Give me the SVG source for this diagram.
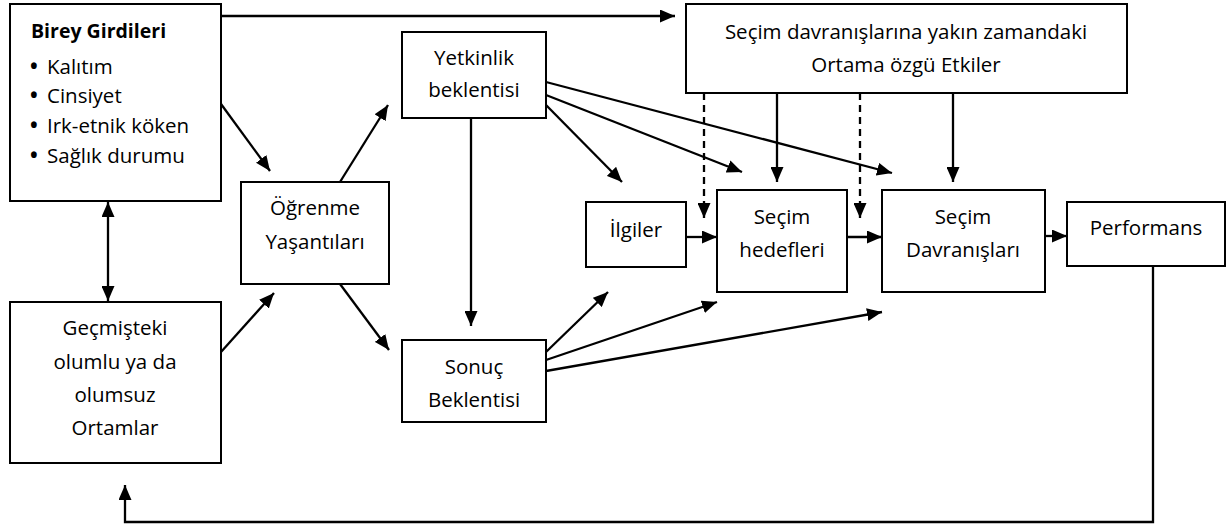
<svg xmlns="http://www.w3.org/2000/svg" width="1227" height="529" viewBox="0 0 1227 529">
<style>
.box{fill:#fff;stroke:#000;stroke-width:2}
.t{font-family:"Open Sans","Liberation Sans",sans-serif;font-size:20.5px;fill:#000;text-anchor:middle}
.tl{font-family:"Open Sans","Liberation Sans",sans-serif;font-size:20.5px;fill:#000}
.b{font-weight:bold;font-size:19.5px}
.bu{font-weight:bold}
.c{fill:none;stroke:#000;stroke-width:2.3}
.d{stroke-dasharray:7,5}
</style>
<defs>
<marker id="ah" markerUnits="userSpaceOnUse" markerWidth="15" markerHeight="13" refX="15" refY="6.5" orient="auto-start-reverse" viewBox="0 0 15 13">
<path d="M0,0 L15,6.5 L0,13 z" fill="#000"/>
</marker>
</defs>
<g id="connectors">
<line class="c" x1="221" y1="16" x2="675" y2="16" marker-end="url(#ah)"/>
<line class="c" x1="108" y1="202" x2="108" y2="301" marker-start="url(#ah)" marker-end="url(#ah)"/>
<line class="c" x1="221" y1="104" x2="270" y2="171" marker-end="url(#ah)"/>
<line class="c" x1="221" y1="352" x2="274" y2="293" marker-end="url(#ah)"/>
<line class="c" x1="340" y1="182" x2="388" y2="105" marker-end="url(#ah)"/>
<line class="c" x1="340" y1="284" x2="389" y2="350" marker-end="url(#ah)"/>
<line class="c" x1="471" y1="118" x2="471" y2="326" marker-end="url(#ah)"/>
<line class="c" x1="546" y1="82" x2="892" y2="173" marker-end="url(#ah)"/>
<line class="c" x1="546" y1="95" x2="742" y2="172" marker-end="url(#ah)"/>
<line class="c" x1="546" y1="105" x2="622" y2="182" marker-end="url(#ah)"/>
<line class="c d" x1="704" y1="93" x2="704" y2="218" marker-end="url(#ah)"/>
<line class="c d" x1="860" y1="93" x2="860" y2="218" marker-end="url(#ah)"/>
<line class="c" x1="777" y1="93" x2="777" y2="182" marker-end="url(#ah)"/>
<line class="c" x1="953" y1="93" x2="953" y2="182" marker-end="url(#ah)"/>
<line class="c" x1="686" y1="237" x2="717" y2="237" marker-end="url(#ah)"/>
<line class="c" x1="847" y1="237" x2="882" y2="237" marker-end="url(#ah)"/>
<line class="c" x1="1045" y1="236" x2="1067" y2="236" marker-end="url(#ah)"/>
<line class="c" x1="546" y1="352" x2="608" y2="292" marker-end="url(#ah)"/>
<line class="c" x1="546" y1="360" x2="717" y2="302" marker-end="url(#ah)"/>
<line class="c" x1="546" y1="371" x2="882" y2="312" marker-end="url(#ah)"/>
<polyline class="c" points="1153,266 1153,522 125,522 125,485" marker-end="url(#ah)"/>
</g>
<g id="birey">
<rect class="box" x="10" y="4" width="211" height="197"/>
<text class="tl b" x="31" y="38">Birey Girdileri</text>
<text class="tl" y="74"><tspan class="bu" x="30">•</tspan><tspan x="47">Kalıtım</tspan></text>
<text class="tl" y="103"><tspan class="bu" x="30">•</tspan><tspan x="47">Cinsiyet</tspan></text>
<text class="tl" y="133"><tspan class="bu" x="30">•</tspan><tspan x="47">Irk-etnik köken</tspan></text>
<text class="tl" y="163"><tspan class="bu" x="30">•</tspan><tspan x="47">Sağlık durumu</tspan></text>
</g>
<g id="gecmis">
<rect class="box" x="10" y="302" width="211" height="161"/>
<text class="t" x="115" y="335">Geçmişteki</text>
<text class="t" x="115" y="369">olumlu ya da</text>
<text class="t" x="115" y="402">olumsuz</text>
<text class="t" x="115" y="435">Ortamlar</text>
</g>
<g id="ogrenme">
<rect class="box" x="241" y="182" width="148" height="102"/>
<text class="t" x="315" y="215">Öğrenme</text>
<text class="t" x="315" y="249">Yaşantıları</text>
</g>
<g id="yetkinlik">
<rect class="box" x="402" y="32" width="144" height="86"/>
<text class="t" x="474" y="65">Yetkinlik</text>
<text class="t" x="474" y="97">beklentisi</text>
</g>
<g id="sonuc">
<rect class="box" x="402" y="340" width="144" height="82"/>
<text class="t" x="474" y="374">Sonuç</text>
<text class="t" x="474" y="407">Beklentisi</text>
</g>
<g id="ortam">
<rect class="box" x="686" y="4" width="441" height="89"/>
<text class="t" x="906" y="39">Seçim davranışlarına yakın zamandaki</text>
<text class="t" x="906" y="72">Ortama özgü Etkiler</text>
</g>
<g id="ilgiler">
<rect class="box" x="586" y="202" width="100" height="65"/>
<text class="t" x="636" y="237">İlgiler</text>
</g>
<g id="hedefler">
<rect class="box" x="717" y="190" width="130" height="102"/>
<text class="t" x="782" y="224">Seçim</text>
<text class="t" x="782" y="257">hedefleri</text>
</g>
<g id="davranislar">
<rect class="box" x="882" y="190" width="163" height="102"/>
<text class="t" x="963" y="224">Seçim</text>
<text class="t" x="963" y="257">Davranışları</text>
</g>
<g id="performans">
<rect class="box" x="1067" y="202" width="158" height="64"/>
<text class="t" x="1146" y="235">Performans</text>
</g>
</svg>
